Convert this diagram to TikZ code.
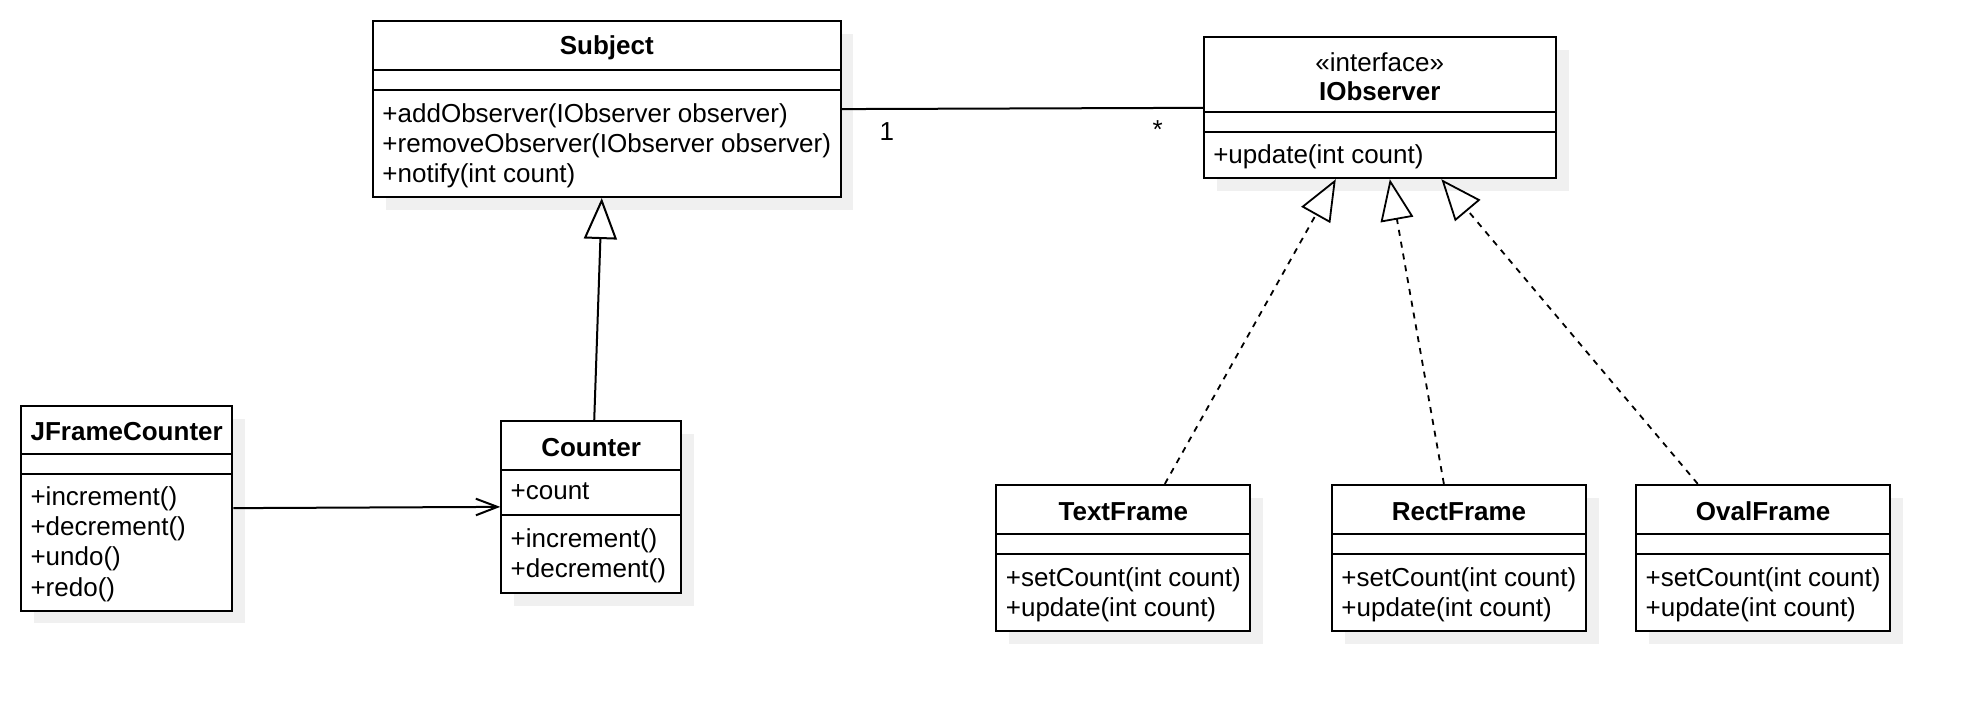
\documentclass[tikz,border=0pt]{standalone}
\usepackage{fontspec}
\setmainfont{Liberation Sans}
\usetikzlibrary{arrows.meta,calc}

\definecolor{shadowgray}{HTML}{F0F0F0}
\newlength{\dpx}
\setlength{\dpx}{0.6285pt}

% name, top left, width, title h, attr h, total h, title, attrs, methods
\newcommand{\umlclass}[9]{%
	\fill[shadowgray] ($#2+(11,11)$) rectangle ($#2+(11+#3,11+#6)$);
	\node[classbox, minimum width=#3*\dpx, minimum height=#6*\dpx] (#1) at #2 {};
	\draw[line width=1pt] ($(#1.north west)+(0,#4)$) -- ($(#1.north east)+(0,#4)$);
	\draw[line width=1pt] ($(#1.north west)+(0,#4+#5)$) -- ($(#1.north east)+(0,#4+#5)$);
	\node[titletext] (#1-title) at ($(#1.north)+(0,#4/2+2)$) {#7};
	\node[membertext] (#1-attrs) at ($(#1.north west)+(8,#4+10)$) {#8};
	\node[membertext] (#1-ops) at ($(#1.north west)+(8,#4+#5+10)$) {#9};
}

\begin{document}
\begin{tikzpicture}[x=0.6285pt, y=-0.6285pt,
	classbox/.style = {draw, line width=1pt, fill=white,
		anchor=north west, inner sep=0pt},
	titletext/.style = {align=center, inner sep=0pt,
		font=\fontsize{13}{14.5}\selectfont},
	membertext/.style = {anchor=north west, inner sep=0pt, align=left,
		font=\fontsize{13}{15.08}\selectfont},
	multlabel/.style = {inner sep=0pt, font=\fontsize{13}{15}\selectfont},
	assoc/.style = {line width=1pt},
	navig/.style = {line width=1pt, -{Straight Barb[length=10.8pt, width=8.3pt]}},
	inherit/.style = {line width=1pt, -{Triangle[open, length=20.5pt, width=16.5pt]}},
	realize/.style = {line width=0.9pt, dash pattern=on 3pt off 3pt,
		-{Triangle[open, length=20.5pt, width=16.5pt]}}]
	\useasboundingbox (0,0) rectangle (1569,565);

	\umlclass{subject}{(296,16)}{372}{40}{16}{140}{\textbf{Subject}}{}
		{+addObserver(IObserver observer)\\+removeObserver(IObserver observer)\\+notify(int count)}
	\umlclass{iobserver}{(957,29)}{280}{60}{16}{112}{«interface»\\\textbf{IObserver}}{}
		{+update(int count)}
	\umlclass{jframecounter}{(16,322)}{168}{39}{16}{163}{\textbf{JFrameCounter}}{}
		{+increment()\\+decrement()\\+undo()\\+redo()}
	\umlclass{counter}{(398,334)}{143}{40}{36}{137}{\textbf{Counter}}{+count}
		{+increment()\\+decrement()}
	\umlclass{textframe}{(792,385)}{202}{40}{16}{116}{\textbf{TextFrame}}{}
		{+setCount(int count)\\+update(int count)}
	\umlclass{rectframe}{(1059,385)}{202}{40}{16}{116}{\textbf{RectFrame}}{}
		{+setCount(int count)\\+update(int count)}
	\umlclass{ovalframe}{(1301,385)}{202}{40}{16}{116}{\textbf{OvalFrame}}{}
		{+setCount(int count)\\+update(int count)}

	% association Subject -- IObserver
	\draw[assoc] (subject.east) -- (iobserver.west);
	\node[multlabel] (one) at ($(subject.east)+(36,18)$) {1};
	\node[multlabel] (many) at ($(iobserver.west)+(-36,17)$) {*};

	% Counter extends Subject
	\draw[inherit] ($(counter.north)+(2.5,0)$) -- ($(subject.south)+(-4,0)$);

	% JFrameCounter uses Counter
	\draw[navig] (jframecounter.east) -- (counter.west);

	% frames implement IObserver
	\draw[realize] ($(textframe.north)+(33,0)$) -- ($(iobserver.south)+(-35,0)$);
	\draw[realize] ($(rectframe.north)+(-12,0)$) -- ($(iobserver.south)+(8,0)$);
	\draw[realize] ($(ovalframe.north)+(-52,0)$) -- ($(iobserver.south)+(49,0)$);
\end{tikzpicture}
\end{document}
